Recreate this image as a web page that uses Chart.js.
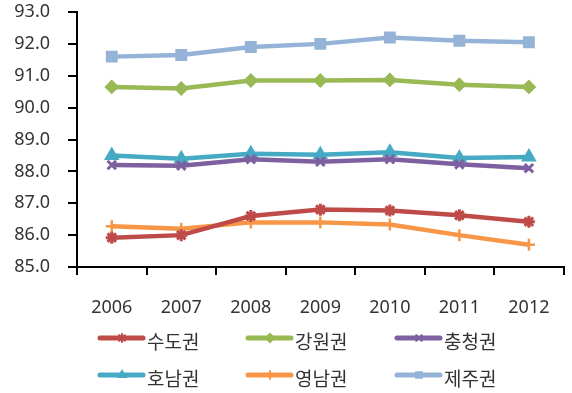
<!DOCTYPE html>
<html>
<head>
<meta charset="utf-8">
<script src="https://cdn.jsdelivr.net/npm/chart.js@4/dist/chart.umd.min.js"></script>
<style>
  html, body { margin: 0; padding: 0; background: #fff; }
  #wrap { width: 572px; height: 393px; position: relative; }
</style>
</head>
<body>
<div id="wrap"><canvas id="chart"></canvas></div>
<script>
const years = ['2006', '2007', '2008', '2009', '2010', '2011', '2012'];
const regions = ['수도권', '강원권', '충청권', '호남권', '영남권', '제주권'];

const sudo = [85.92, 86.0, 86.6, 86.8, 86.77, 86.62, 86.42];
const gangwon = [90.65, 90.6, 90.85, 90.85, 90.87, 90.72, 90.65];
const chungcheong = [88.2, 88.18, 88.38, 88.3, 88.38, 88.22, 88.1];
const honam = [88.5, 88.4, 88.55, 88.52, 88.6, 88.42, 88.45];
const yeongnam = [86.28, 86.2, 86.4, 86.4, 86.33, 86.0, 85.7];
const jeju = [91.6, 91.65, 91.9, 92.0, 92.2, 92.1, 92.05];

const yTicks = [85, 86, 87, 88, 89, 90, 91, 92, 93];

const FONT = '"Noto Sans", "Noto Sans CJK KR", sans-serif';

function series(label, data, color, pointStyle, radius, bw) {
  return {
    label,
    data,
    borderColor: color,
    backgroundColor: color,
    borderWidth: 4.5,
    pointStyle,
    pointRadius: radius,
    pointBorderWidth: bw,
    pointBackgroundColor: color,
    pointBorderColor: color,
    tension: 0,
  };
}

const datasets = [
  series(regions[0], sudo, '#BE4B48', 'star', 6, 3),
  series(regions[1], gangwon, '#98B954', 'rectRot', 6, 2),
  series(regions[2], chungcheong, '#7D60A0', 'crossRot', 6, 3),
  series(regions[3], honam, '#46AAC5', 'triangle', 7, 2),
  series(regions[4], yeongnam, '#F79646', 'cross', 6, 2.5),
  series(regions[5], jeju, '#95B3D7', 'rect', 7, 2),
];

// legend: 3 columns x 2 rows, line with marker like the original
const legendPlugin = {
  id: 'gridLegend',
  afterDraw(chart) {
    const ctx = chart.ctx;
    const colX = [100, 248, 397];
    const rowY = [338, 375];
    ctx.save();
    chart.data.datasets.forEach((ds, i) => {
      const x = colX[i % 3];
      const y = rowY[Math.floor(i / 3)];
      ctx.strokeStyle = ds.borderColor;
      ctx.lineWidth = 5;
      ctx.lineCap = 'round';
      ctx.beginPath();
      ctx.moveTo(x, y);
      ctx.lineTo(x + 43, y);
      ctx.stroke();
      ctx.fillStyle = ds.borderColor;
      ctx.lineWidth = 2;
      Chart.helpers.drawPoint(ctx, {
        pointStyle: ds.pointStyle,
        radius: 4,
        borderWidth: 2,
        rotation: 0,
      }, x + 22, y);
      ctx.fillStyle = '#333';
      ctx.font = '19px ' + FONT;
      ctx.textBaseline = 'middle';
      ctx.textAlign = 'left';
      ctx.fillText(ds.label, x + 47, y + 6);
    });
    ctx.restore();
  }
};

new Chart(document.getElementById('chart'), {
  type: 'line',
  data: { labels: years, datasets },
  plugins: [legendPlugin],
  options: {
    responsive: true,
    maintainAspectRatio: false,
    animation: false,
    layout: { autoPadding: false, padding: { top: 12, right: 7, left: 4, bottom: 76 } },
    plugins: {
      legend: { display: false },
      tooltip: { enabled: false },
    },
    scales: {
      x: {
        offset: true,
        afterFit: (axis) => { axis.height = 50; },
        grid: {
          offset: true,
          drawOnChartArea: false,
          drawTicks: true,
          tickLength: 8,
          color: '#000',
          lineWidth: 2,
        },
        border: { color: '#000', width: 2 },
        ticks: {
          padding: 22,
          color: '#333',
          maxRotation: 0,
          font: { family: FONT, size: 18 },
        },
      },
      y: {
        min: 85,
        max: 93,
        afterBuildTicks: (axis) => {
          axis.ticks = yTicks.map((v) => ({ value: v }));
        },
        afterFit: (axis) => {
          axis.width = 73;
          axis.paddingTop = 0;
          axis.paddingBottom = 0;
        },
        grid: {
          drawOnChartArea: false,
          drawTicks: true,
          tickLength: 9,
          color: '#000',
          lineWidth: 2,
        },
        border: { color: '#000', width: 2 },
        ticks: {
          padding: 18,
          color: '#333',
          font: { family: FONT, size: 18 },
          callback: (v) => Number(v).toFixed(1),
        },
      },
    },
  },
});
</script>
</body>
</html>
